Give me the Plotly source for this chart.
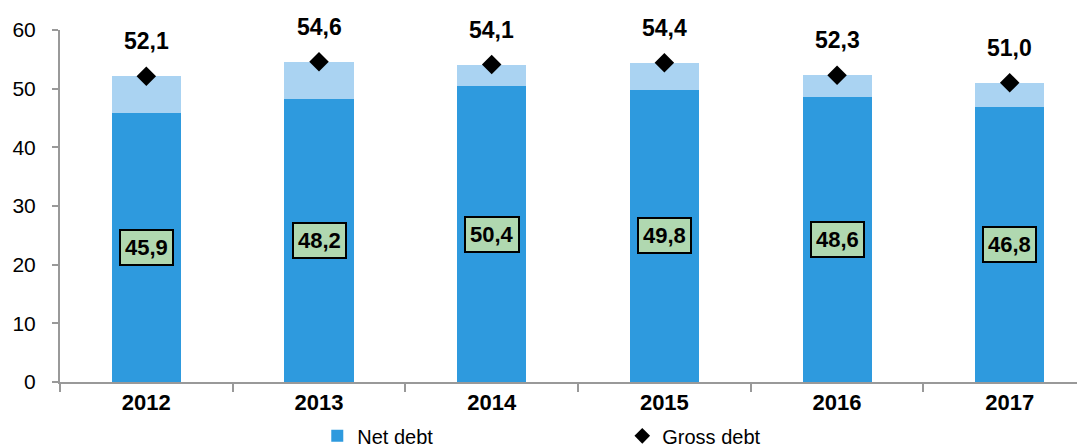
import plotly.graph_objects as go

years = ["2012", "2013", "2014", "2015", "2016", "2017"]
net_debt = [45.9, 48.2, 50.4, 49.8, 48.6, 46.8]
gross_debt = [52.1, 54.6, 54.1, 54.4, 52.3, 51.0]
diff = [round(g - n, 1) for g, n in zip(gross_debt, net_debt)]

def fmt(v):
    return f"{v:.1f}".replace(".", ",")

FONT = "Liberation Sans, Arial"

fig = go.Figure()
fig.add_trace(go.Bar(x=years, y=net_debt, name="Net debt", marker_color="#2e9ade",
                     marker_line_width=0, width=0.4))
fig.add_trace(go.Bar(x=years, y=diff, name="diff", marker_color="#aad3f2",
                     marker_line_width=0, width=0.4, showlegend=False))
fig.add_trace(go.Scatter(x=years, y=gross_debt, name="Gross debt", mode="markers",
                         marker=dict(symbol="diamond", size=15, color="black")))

for i, (n, g) in enumerate(zip(net_debt, gross_debt)):
    fig.add_annotation(x=i, y=n / 2, text="<b>" + fmt(n) + "</b>", showarrow=False,
                       font=dict(family=FONT, size=22, color="black"),
                       bgcolor="#b0d8b0", bordercolor="black", borderwidth=2, borderpad=4)
    fig.add_annotation(x=i, y=g, text="<b>" + fmt(g) + "</b>", showarrow=False,
                       yshift=35, font=dict(family=FONT, size=23, color="black"))

fig.update_layout(
    barmode="stack",
    width=1085, height=448,
    margin=dict(l=52, r=8, t=22, b=74, autoexpand=False),
    plot_bgcolor="white", paper_bgcolor="white",
    font=dict(family=FONT, size=20, color="black"),
    legend=dict(orientation="h", x=0.251, y=0.045, xanchor="left", yanchor="middle",
                yref="container", entrywidth=260, traceorder="normal", font=dict(size=20),
                itemsizing="constant"),
    xaxis=dict(type="category", range=[-0.5, 5.436], showline=True, linecolor="#999999",
               linewidth=2, ticks="outside", tickson="boundaries", ticklen=8,
               tickcolor="#999999", tickwidth=2, tickfont=dict(size=22, family=FONT),
               tickvals=years, ticktext=["<b>" + y + "</b>" for y in years]),
    yaxis=dict(range=[0, 60], dtick=10, showline=True, linecolor="#999999", linewidth=2,
               ticks="outside", ticklen=6, tickcolor="#999999", tickwidth=2,
               showgrid=False, zeroline=False, tickfont=dict(size=21, family=FONT),
               ticklabelstandoff=12),
)

fig.write_html("out.html")
